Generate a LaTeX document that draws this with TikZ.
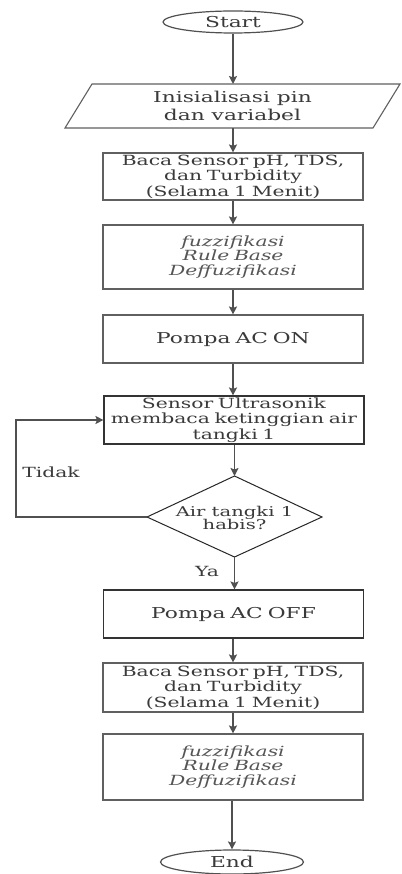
\documentclass[tikz,border=0pt]{standalone}
\usepackage{fontspec}
\setmainfont[FakeStretch=1.45]{DejaVu Serif}
\usetikzlibrary{shapes.geometric,arrows.meta}
\definecolor{linec}{HTML}{505050}
\definecolor{boxc}{HTML}{606060}
\definecolor{textc}{HTML}{3A3A3A}
\definecolor{itc}{HTML}{555555}
\tikzset{
  x=1pt, y=-1pt,
  base/.style={inner sep=0pt, text=textc, align=center, font=\fontsize{14}{15.5}\selectfont},
  procbox/.style={base, draw=boxc, line width=1.1pt, rectangle, text width=260pt, minimum width=260pt},
  term/.style={base, draw=linec, line width=1.2pt, ellipse, font=\fontsize{15}{16}\selectfont},
  dectext/.style={base, font=\fontsize{13.5}{13.5}\selectfont},
  flow/.style={draw=linec, line width=1.5pt, -{Stealth[length=8pt,width=8pt,inset=1.5pt]}},
  lbl/.style={text=textc, inner sep=0pt, font=\fontsize{14}{16}\selectfont},
  itx/.style={text=itc, font=\fontsize{14}{14.5}\selectfont\itshape}
}
\begin{document}
\begin{tikzpicture}
\useasboundingbox (0,0) rectangle (401,874);
\fill[white] (0,0) rectangle (401,874);

\node[term, minimum width=140pt, minimum height=22pt] (start) at (233,22) {Start};

\node[base, minimum width=281pt, minimum height=44pt, font=\fontsize{15}{18}\selectfont] (init) at (232.5,106) {Inisialisasi pin\\dan variabel};
\draw[draw=boxc, line width=1.1pt] (92,84) -- (400,84) -- (373,128) -- (65,128) -- cycle;

\node[procbox, minimum height=47pt] (baca1) at (233,176.5) {Baca Sensor pH, TDS,\\dan Turbidity\\(Selama 1 Menit)};
\node[procbox, minimum height=64pt, itx] (fuzz1) at (233,257) {fuzzifikasi\\Rule Base\\Deffuzifikasi};
\node[procbox, minimum height=48pt, font=\fontsize{15}{16}\selectfont] (pon) at (233,339) {Pompa AC ON};
\node[procbox, minimum height=48pt, draw=black!80] (sens) at (234,420) {Sensor Ultrasonik\\membaca ketinggian air\\tangki 1};

\coordinate (dN) at (234.5,476);
\coordinate (dS) at (234.5,557);
\coordinate (dW) at (147,517);
\coordinate (dE) at (322,517);
\draw[draw=black!85, line width=1pt] (dN) -- (dE) -- (dS) -- (dW) -- cycle;
\node[dectext] (dec) at (234.5,518) {Air tangki 1\\habis?};

\node[procbox, minimum height=48pt, draw=black!80, font=\fontsize{15}{16}\selectfont] (poff) at (233.5,614) {Pompa AC OFF};
\node[procbox, minimum height=49pt] (baca2) at (233,687.5) {Baca Sensor pH, TDS,\\dan Turbidity\\(Selama 1 Menit)};
\node[procbox, minimum height=66pt, itx] (fuzz2) at (233,767) {fuzzifikasi\\Rule Base\\Deffuzifikasi};
\node[term, minimum width=143pt, minimum height=24pt] (end) at (232,862) {End};

\coordinate (initTop) at (233,84);
\coordinate (initBot) at (233,128);

\draw[flow] (start.south) -- (initTop);
\draw[flow] (initBot) -- (baca1.north -| initBot);
\draw[flow] (baca1.south -| initBot) -- (fuzz1.north -| initBot);
\draw[flow] (fuzz1.south -| initBot) -- (pon.north -| initBot);
\draw[flow] (pon.south -| initBot) -- (sens.north -| initBot);
\draw[flow] (sens.south -| dN) -- (dN);
\draw[flow] (dS) -- (poff.north -| dS);
\draw[flow] (poff.south -| initBot) -- (baca2.north -| initBot);
\draw[flow] (baca2.south -| initBot) -- (fuzz2.north -| initBot);
\draw[flow] (fuzz2.south -| end.north) -- (end.north);

\coordinate (lpb) at (16,517);
\coordinate (lpt) at (16,420);
\draw[flow, line width=1.3pt] (dW) -- (lpb) -- (lpt) -- (sens.west);

\node[lbl] (tidak) at (51,472) {Tidak};
\node[lbl] (ya) at (207,571) {Ya};
\end{tikzpicture}
\end{document}
